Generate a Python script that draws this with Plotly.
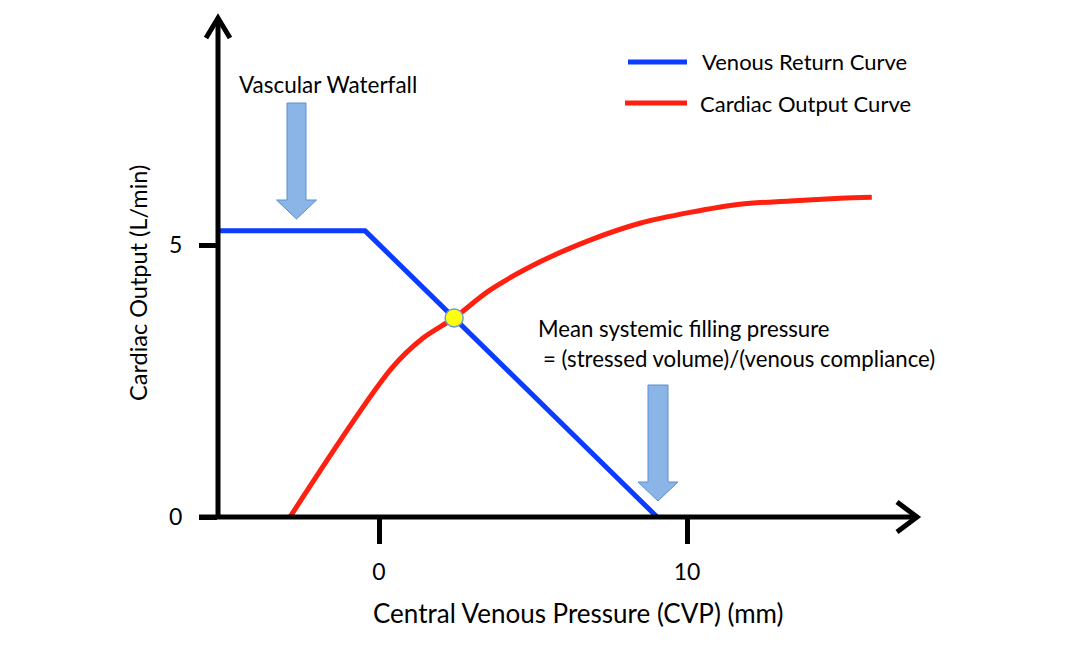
import plotly.graph_objects as go

# ---- data ----
vr_x = [-5.2, -0.45, 9.03]
vr_y = [5.26, 5.26, 0.0]

co_x = [-2.89, 0.42, 1.43, 2.44, 3.60, 5.23, 6.85, 8.47, 10.10, 11.72, 13.34, 14.97, 16.0]
co_y = [0.0, 2.74, 3.29, 3.66, 4.17, 4.69, 5.09, 5.40, 5.60, 5.75, 5.81, 5.86, 5.88]

eq_x = [2.44]
eq_y = [3.66]

x_ticks = [0, 10]
x_ticktext = ["0", "10"]
y_ticks = [0, 5]
y_ticktext = ["0", "5"]

# ---- layout geometry (page pixels; the page body adds an 8px offset) ----
OFF = 8
W, H = 1080 - OFF, 649 - OFF
L, R = 218, 918      # plot area left/right (page px)
T, B = 16, 517       # plot area top/bottom (page px)
PW, PH = R - L, B - T
X_RANGE = [(L - 379) / 30.8, (R - 379) / 30.8]
Y_RANGE = [0, (B - T) / 54.4]

FONT = "Lato"
BLUE = "#0c3cff"
RED = "#ff2010"


def px(xp):
    return (xp - L) / PW


def py(yp):
    return (B - yp) / PH


fig = go.Figure()
fig.add_trace(go.Scatter(x=vr_x, y=vr_y, mode="lines", name="Venous Return Curve",
                         line=dict(color=BLUE, width=5), showlegend=False, cliponaxis=False))
fig.add_trace(go.Scatter(x=co_x, y=co_y, mode="lines", name="Cardiac Output Curve",
                         line=dict(color=RED, width=5, shape="spline", smoothing=0.9),
                         showlegend=False, cliponaxis=False))
fig.add_trace(go.Scatter(x=eq_x, y=eq_y, mode="markers", showlegend=False, cliponaxis=False,
                         marker=dict(size=18, color="#ffff10", line=dict(color="#6f9bd0", width=1.5))))

shapes = []
# axis lines
shapes.append(dict(type="line", xref="paper", yref="paper", x0=px(199), x1=px(917), y0=py(517), y1=py(517),
                   line=dict(color="black", width=5)))
shapes.append(dict(type="line", xref="paper", yref="paper", x0=px(218), x1=px(218), y0=py(519), y1=py(18),
                   line=dict(color="black", width=5)))
# chevron arrowheads
shapes.append(dict(type="path", xref="paper", yref="paper",
                   path=f"M{px(897)},{py(502)} L{px(917)},{py(517)} L{px(897)},{py(532)}",
                   line=dict(color="black", width=5)))
shapes.append(dict(type="path", xref="paper", yref="paper",
                   path=f"M{px(206)},{py(38)} L{px(218)},{py(18)} L{px(230)},{py(38)}",
                   line=dict(color="black", width=5)))


def block_arrow(cx, top, head_y, tip_y, shaft_hw, head_hw):
    pts = [(cx - shaft_hw, top), (cx + shaft_hw, top), (cx + shaft_hw, head_y), (cx + head_hw, head_y),
           (cx, tip_y), (cx - head_hw, head_y), (cx - shaft_hw, head_y)]
    d = "M" + " L".join(f"{px(a)},{py(b)}" for a, b in pts) + " Z"
    return dict(type="path", xref="paper", yref="paper", path=d,
                fillcolor="#8ab5e6", line=dict(color="#5a8fd2", width=1))


shapes.append(block_arrow(296.5, 103, 200, 219, 9.5, 20))
shapes.append(block_arrow(658, 385, 482, 501, 10, 20))

# legend swatches
shapes.append(dict(type="line", xref="paper", yref="paper", x0=px(628), x1=px(687), y0=py(62), y1=py(62),
                   line=dict(color=BLUE, width=5)))
shapes.append(dict(type="line", xref="paper", yref="paper", x0=px(625), x1=px(687), y0=py(103), y1=py(103),
                   line=dict(color=RED, width=5)))

ann = []


def text(t, xp, yp, xanchor="left", size=22, angle=0):
    ann.append(dict(text=t, xref="paper", yref="paper", x=px(xp), y=py(yp), xanchor=xanchor,
                    yanchor="middle", showarrow=False, textangle=angle,
                    font=dict(family=FONT, size=size, color="black")))


text("Venous Return Curve", 700, 62, size=22)
text("Cardiac Output Curve", 698, 103, size=22)
text("Vascular Waterfall", 237, 84, size=22.5)
text("Mean systemic filling pressure", 536, 328, size=22.2)
text("= (stressed volume)/(venous compliance)", 541, 358, size=22.2)
text("Central Venous Pressure (CVP) (mm)", 578, 613, xanchor="center", size=26)
text("Cardiac Output (L/min)", 138, 283, xanchor="center", size=23.5, angle=-90)

fig.update_layout(
    width=W, height=H,
    margin=dict(l=L - OFF, r=1080 - R, t=T - OFF, b=649 - B),
    paper_bgcolor="white", plot_bgcolor="white",
    showlegend=False,
    shapes=shapes, annotations=ann,
    xaxis=dict(range=X_RANGE, showgrid=False, zeroline=False, showline=False,
               tickmode="array", tickvals=x_ticks, ticktext=x_ticktext,
               ticks="outside", ticklen=26, tickwidth=5, tickcolor="black",
               ticklabelstandoff=8,
               tickfont=dict(family=FONT, size=23, color="black")),
    yaxis=dict(range=Y_RANGE, showgrid=False, zeroline=False, showline=False,
               tickmode="array", tickvals=y_ticks, ticktext=y_ticktext,
               ticks="outside", ticklen=18, tickwidth=5, tickcolor="black",
               ticklabelstandoff=12,
               tickfont=dict(family=FONT, size=23, color="black")),
)

fig.write_html("out.html")
